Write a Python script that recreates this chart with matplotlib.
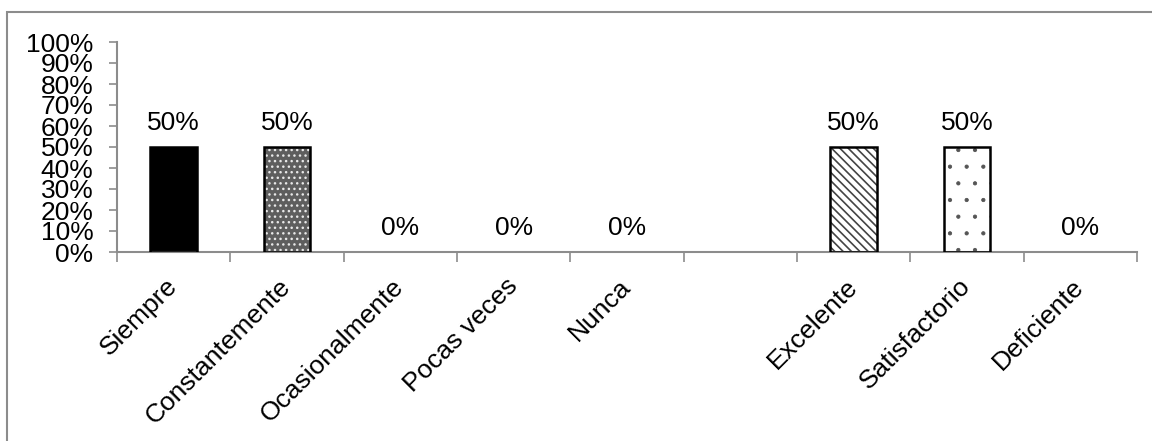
import matplotlib
matplotlib.use("Agg")
import matplotlib.pyplot as plt
from matplotlib.patches import Rectangle
from matplotlib.ticker import PercentFormatter

plt.rcParams['font.family'] = ['Liberation Sans', 'DejaVu Sans']
plt.rcParams['hatch.linewidth'] = 1.0

categories = ["Siempre", "Constantemente", "Ocasionalmente", "Pocas veces",
              "Nunca", "", "Excelente", "Satisfactorio", "Deficiente"]
values = [0.50, 0.50, 0.00, 0.00, 0.00, None, 0.50, 0.50, 0.00]
value_labels = ["50%", "50%", "0%", "0%", "0%", "", "50%", "50%", "0%"]
y_ticks = [0.0, 0.1, 0.2, 0.3, 0.4, 0.5, 0.6, 0.7, 0.8, 0.9, 1.0]

# fill, hatch, hatch colour, hatch line width for each bar
styles = [
    ("black", None, "black", 1.0),
    ("#5e5e5e", "...", "#e8e8e8", 1.0),
    ("white", None, "black", 1.0),
    ("white", None, "black", 1.0),
    ("white", None, "black", 1.0),
    ("white", None, "black", 1.0),
    ("white", "\\\\\\\\", "#444444", 1.2),
    ("white", ".", "#555555", 0.6),
    ("white", None, "black", 1.0),
]

W, H, DPI = 1152, 441, 100
fig = plt.figure(figsize=(W / DPI, H / DPI), dpi=DPI)
ax = fig.add_axes([117 / W, 1 - 252 / H, (1137 - 117) / W, (252 - 42) / H])

# outer frame of the chart area
fig.add_artist(Rectangle((7 / W, -0.05), 1.1, 1 - 12 / H + 0.05,
                         transform=fig.transFigure, fill=False,
                         edgecolor="#8c8c8c", linewidth=1.5))

n = len(categories)
xs = list(range(n))
bar_w = 0.41
for x, v, (fc, hatch, hc, hlw) in zip(xs, values, styles):
    if v is None or v == 0:
        continue
    plt.rcParams['hatch.linewidth'] = hlw
    ax.bar(x, v, width=bar_w, color=fc, hatch=hatch, edgecolor=hc,
           linewidth=0, zorder=2)
    ax.bar(x, v, width=bar_w, fill=False, edgecolor="black",
           linewidth=1.8, zorder=3)

for x, v, lab in zip(xs, values, value_labels):
    if v is None:
        continue
    ax.annotate(lab, (x, v), xytext=(0, 12), textcoords="offset points",
                ha="center", va="baseline", fontsize=19, color="black")

ax.set_xlim(-0.5, n - 0.5)
ax.set_ylim(0, 1.0)
ax.set_yticks(y_ticks)
ax.yaxis.set_major_formatter(PercentFormatter(1.0, decimals=0))
ax.tick_params(axis="y", labelsize=19, length=6, width=1.2,
               color="#8c8c8c", pad=11)

ax.set_xticks([i - 0.5 for i in range(n + 1)])
ax.set_xticklabels([])
ax.tick_params(axis="x", length=7, width=1.2, color="#8c8c8c")

for x, lab in zip(xs, categories):
    if not lab:
        continue
    ax.annotate(lab, (x, 0), xytext=(0, -22), textcoords="offset points",
                rotation=45, rotation_mode="anchor", ha="right", va="center",
                fontsize=19, color="black")

for side in ("top", "right"):
    ax.spines[side].set_visible(False)
for side in ("left", "bottom"):
    ax.spines[side].set_color("#8c8c8c")
    ax.spines[side].set_linewidth(1.5)

fig.savefig("out.png", dpi=DPI)
